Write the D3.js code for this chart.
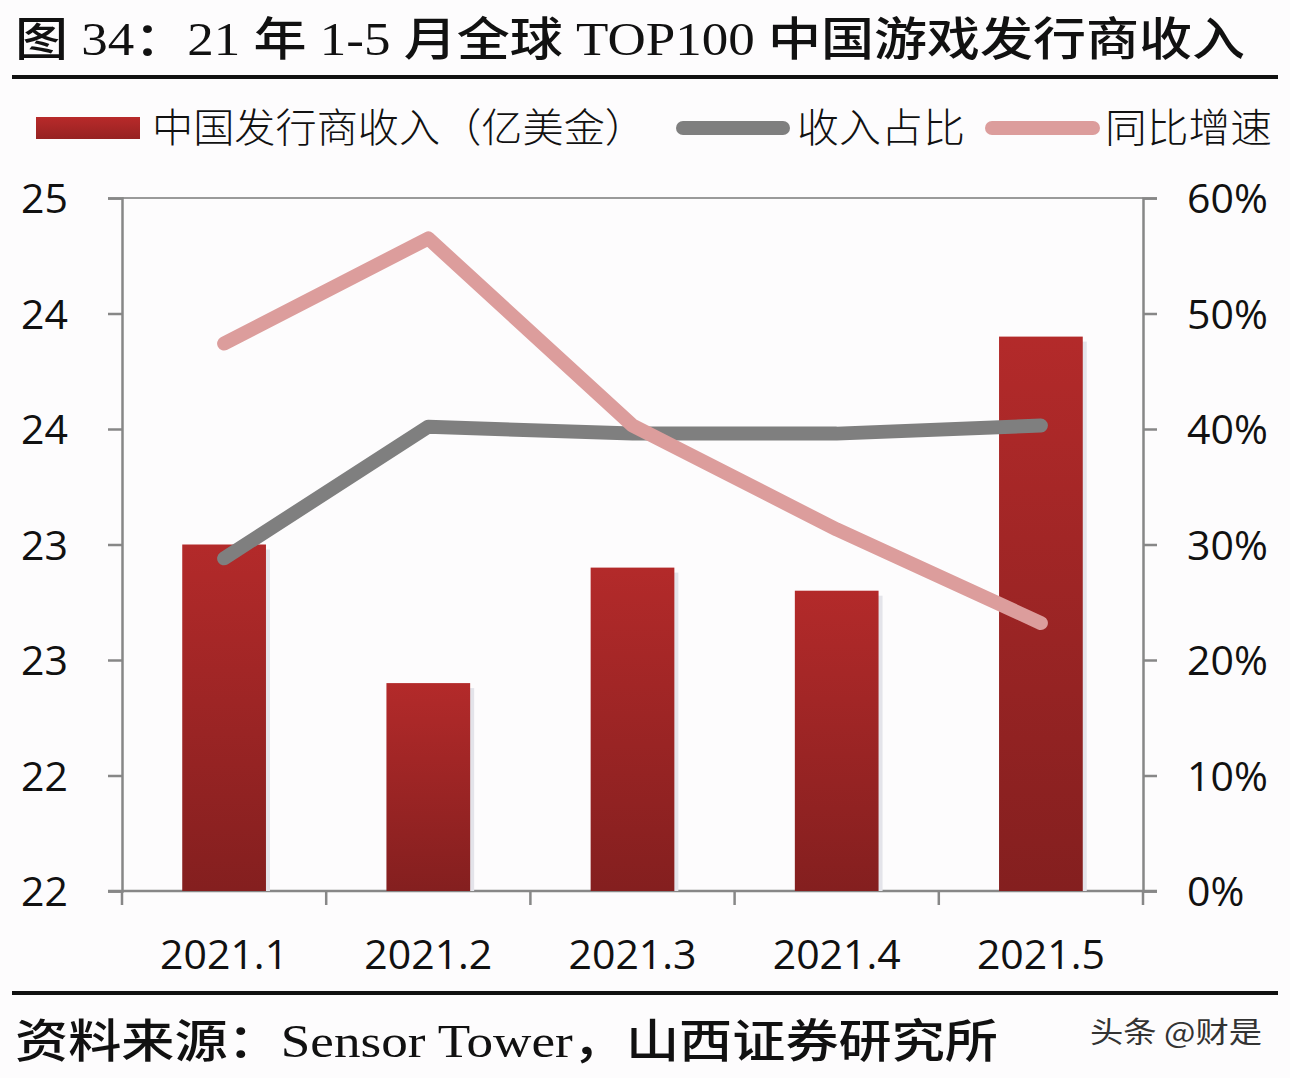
<!DOCTYPE html>
<html><head><meta charset="utf-8">
<script src="https://cdn.jsdelivr.net/npm/d3@7"></script>
<style>
html,body{margin:0;padding:0;background:#fdfcfd;}
svg{display:block;}
</style></head>
<body>
<script>
const categories = ["2021.1","2021.2","2021.3","2021.4","2021.5"];
const revenue = [23.5, 22.9, 23.4, 23.3, 24.4];
const share = [28.8, 40.2, 39.6, 39.6, 40.3];
const growth = [47.4, 56.5, 40.3, 31.3, 23.2];
const leftTicks = [22, 22.5, 23, 23.5, 24, 24.5, 25];
const rightTicks = [0, 10, 20, 30, 40, 50, 60];
const titleText = "图 34：21 年 1-5 月全球 TOP100 中国游戏发行商收入";
const sourceText = "资料来源：Sensor Tower，山西证券研究所";
const legendNames = ["中国发行商收入（亿美金）","收入占比","同比增速"];

const W = 1290, H = 1078;
const svg = d3.select("body").append("svg").attr("width", W).attr("height", H);
svg.append("rect").attr("width", W).attr("height", H).attr("fill", "#fdfcfd");

const defs = svg.append("defs");
const grad = defs.append("linearGradient").attr("id","barg").attr("x1",0).attr("y1",0).attr("x2",0).attr("y2",1);
grad.append("stop").attr("offset","0%").attr("stop-color","#b32a2a");
grad.append("stop").attr("offset","100%").attr("stop-color","#841f1f");
const lg = defs.append("linearGradient").attr("id","legg").attr("x1",0).attr("y1",0).attr("x2",0).attr("y2",1);
lg.append("stop").attr("offset","0%").attr("stop-color","#b82a2a");
lg.append("stop").attr("offset","100%").attr("stop-color","#962222");

const serif = "'Liberation Serif','Noto Sans CJK SC',serif";
const cjk = "'Noto Sans CJK SC',sans-serif";
const num = "'Open Sans','Noto Sans',sans-serif";

// Title
svg.append("text").attr("x", 15).attr("y", 55)
  .attr("font-family", serif).attr("font-size", 46).attr("font-weight", 500).attr("fill","#111")
  .attr("textLength", 1230).attr("lengthAdjust","spacingAndGlyphs")
  .text(titleText);
svg.append("rect").attr("x", 12).attr("y", 75).attr("width", 1266).attr("height", 4).attr("fill", "#111");
svg.append("rect").attr("x", 12).attr("y", 991).attr("width", 1266).attr("height", 4).attr("fill", "#111");

// Source
svg.append("text").attr("x", 15).attr("y", 1057)
  .attr("font-family", serif).attr("font-size", 46).attr("font-weight", 500).attr("fill","#111")
  .attr("textLength", 983).attr("lengthAdjust","spacingAndGlyphs")
  .text(sourceText);
svg.append("text").attr("x", 1090).attr("y", 1043)
  .attr("font-family", cjk).attr("font-size", 29).attr("fill","#333")
  .attr("textLength", 172).attr("lengthAdjust","spacingAndGlyphs")
  .text("头条 @财是");

// Scales
const x0 = 122, x1 = 1143, yTop = 198, yBot = 891;
const x = d3.scaleBand().domain(categories).range([x0, x1]).paddingInner(0.59).paddingOuter(0.295);
const xc = d3.scalePoint().domain(categories).range([x0, x1]).padding(0.5);
const yL = d3.scaleLinear().domain([22, 25]).range([yBot, yTop]);
const yR = d3.scaleLinear().domain([0, 60]).range([yBot, yTop]);

const axisColor = "#878787";
// top border
svg.append("line").attr("x1", x0).attr("x2", x1).attr("y1", yTop).attr("y2", yTop)
  .attr("stroke", "#9a9a9a").attr("stroke-width", 2);

// Left axis
const gL = svg.append("g").attr("transform", `translate(${x0},0)`)
  .call(d3.axisLeft(yL).tickValues(leftTicks).tickSize(14).tickPadding(40).tickFormat(d => d3.format(".0f")(Math.floor(d))));
gL.select(".domain").attr("stroke", axisColor).attr("stroke-width", 2.5);
gL.selectAll(".tick line").attr("stroke", axisColor).attr("stroke-width", 2.5);
gL.selectAll(".tick text").attr("font-family", num).attr("font-size", 41).attr("fill", "#111").attr("dy", "0.36em");

// Right axis
const gR = svg.append("g").attr("transform", `translate(${x1},0)`)
  .call(d3.axisRight(yR).tickValues(rightTicks).tickSize(14).tickPadding(30).tickFormat(d => d + "%"));
gR.select(".domain").attr("stroke", axisColor).attr("stroke-width", 2.5);
gR.selectAll(".tick line").attr("stroke", axisColor).attr("stroke-width", 2.5);
gR.selectAll(".tick text").attr("font-family", num).attr("font-size", 41).attr("fill", "#111").attr("dy", "0.36em");

// Bottom axis
const bounds = d3.range(categories.length + 1).map(i => x0 + (x1 - x0) * i / categories.length);
const gB = svg.append("g").attr("transform", `translate(0,${yBot})`);
gB.append("line").attr("x1", x0 - 14).attr("x2", x1 + 14).attr("stroke", axisColor).attr("stroke-width", 2.5);
gB.selectAll("line.tk").data(bounds).join("line").attr("class","tk")
  .attr("x1", d => d).attr("x2", d => d).attr("y1", 0).attr("y2", 14)
  .attr("stroke", axisColor).attr("stroke-width", 2.5);
gB.selectAll("text").data(categories).join("text")
  .attr("x", d => xc(d)).attr("y", 78).attr("text-anchor", "middle")
  .attr("font-family", num).attr("font-size", 41).attr("fill", "#111").text(d => d);

// Bars
svg.append("g").selectAll("rect").data(categories).join("rect")
  .attr("x", d => x(d) + 4).attr("y", (d,i) => yL(revenue[i]) + 5)
  .attr("width", x.bandwidth()).attr("height", (d,i) => yBot - yL(revenue[i]) - 5)
  .attr("fill", "#e4e4ea");
svg.append("g").selectAll("rect").data(categories).join("rect")
  .attr("x", d => x(d)).attr("y", (d,i) => yL(revenue[i]))
  .attr("width", x.bandwidth()).attr("height", (d,i) => yBot - yL(revenue[i]))
  .attr("fill", "url(#barg)");

// Lines
const line = d3.line().x(d => xc(d[0])).y(d => yR(d[1]));
svg.append("path").datum(categories.map((c,i) => [c, share[i]])).attr("d", line)
  .attr("fill","none").attr("stroke","#7f7f7f").attr("stroke-width",14)
  .attr("stroke-linecap","round").attr("stroke-linejoin","round");
svg.append("path").datum(categories.map((c,i) => [c, growth[i]])).attr("d", line)
  .attr("fill","none").attr("stroke","#dc9d9c").attr("stroke-width",14)
  .attr("stroke-linecap","round").attr("stroke-linejoin","round");

// Legend
const leg = svg.append("g");
leg.append("rect").attr("x", 36).attr("y", 117).attr("width", 104).attr("height", 22).attr("fill", "url(#legg)");
leg.append("text").attr("x", 152).attr("y", 142).attr("font-family", cjk).attr("font-size", 40).attr("font-weight", 300).attr("fill","#111")
  .attr("textLength", 494).attr("lengthAdjust","spacingAndGlyphs").text(legendNames[0]);
leg.append("line").attr("x1", 683).attr("x2", 783).attr("y1", 128).attr("y2", 128)
  .attr("stroke","#7f7f7f").attr("stroke-width",14).attr("stroke-linecap","round");
leg.append("text").attr("x", 797).attr("y", 142).attr("font-family", cjk).attr("font-size", 40).attr("font-weight", 300).attr("fill","#111")
  .attr("textLength", 168).attr("lengthAdjust","spacingAndGlyphs").text(legendNames[1]);
leg.append("line").attr("x1", 992).attr("x2", 1093).attr("y1", 128).attr("y2", 128)
  .attr("stroke","#dc9d9c").attr("stroke-width",14).attr("stroke-linecap","round");
leg.append("text").attr("x", 1105).attr("y", 142).attr("font-family", cjk).attr("font-size", 40).attr("font-weight", 300).attr("fill","#111")
  .attr("textLength", 167).attr("lengthAdjust","spacingAndGlyphs").text(legendNames[2]);
</script>
</body></html>
